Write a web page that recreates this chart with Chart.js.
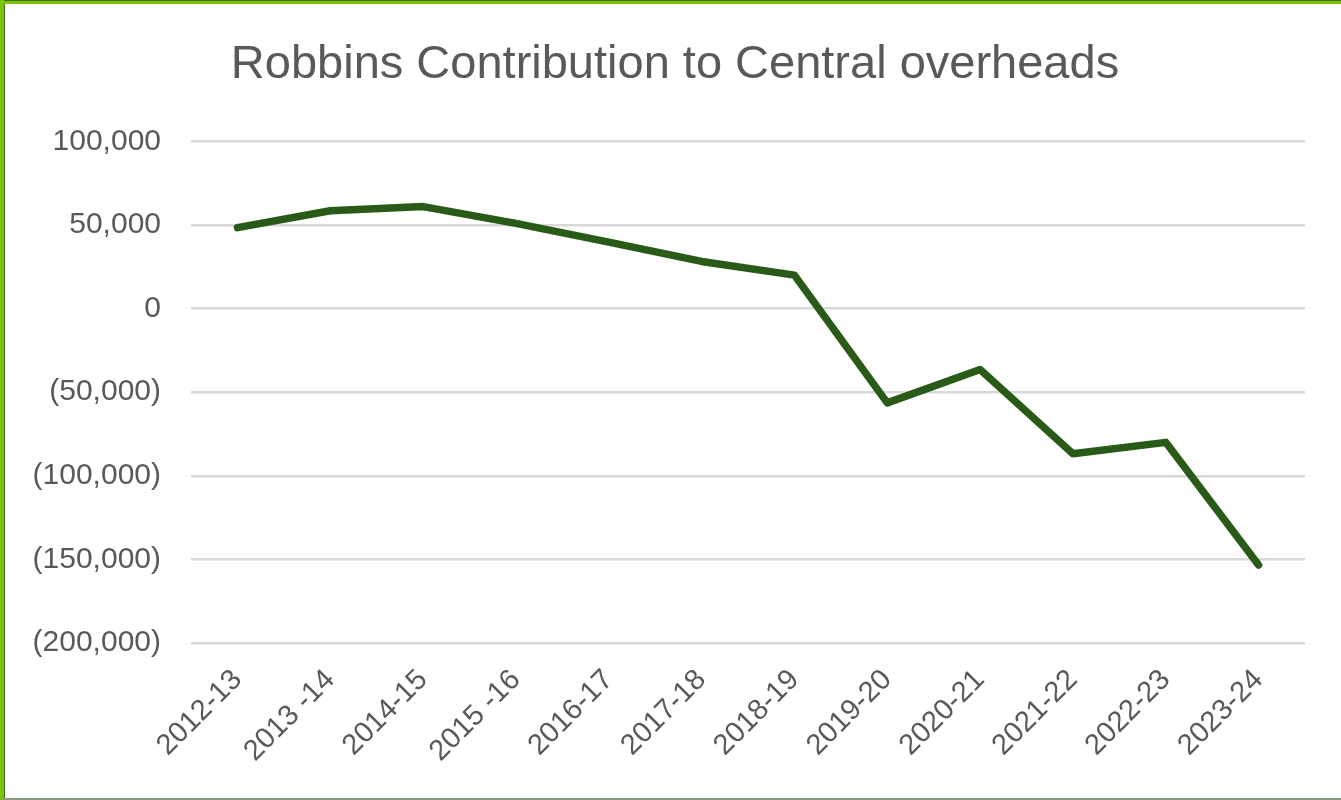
<!DOCTYPE html>
<html>
<head>
<meta charset="utf-8">
<script src="https://cdn.jsdelivr.net/npm/chart.js@4.4.1/dist/chart.umd.min.js"></script>
<style>
  html, body { margin: 0; padding: 0; background: #fff; }
  #wrap { position: relative; width: 1341px; height: 800px; }
  #frame {
    position: absolute; left: 0; top: 0; width: 1341px; height: 800px;
    box-sizing: border-box; pointer-events: none;
    border-left: 4px solid #7cc400; border-top: 4px solid #7cc400;
    border-bottom: 2px solid #8a9a7e;
  }
  #frame2 {
    position: absolute; left: 4px; top: 0; width: 1337px; height: 1px;
    background: #3f6a2a; pointer-events: none;
  }
  #frame3 {
    position: absolute; left: 4px; top: 4px; width: 1px; height: 794px;
    background: #3f6a2a; pointer-events: none;
  }
</style>
</head>
<body>
<div id="wrap">
  <canvas id="chart" width="1341" height="800"></canvas>
  <div id="frame"></div>
  <div id="frame2"></div>
  <div id="frame3"></div>
</div>
<script>
// Dados do grafico
const anos = ['2012-13', '2013 -14', '2014-15', '2015 -16', '2016-17', '2017-18',
              '2018-19', '2019-20', '2020-21', '2021-22', '2022-23', '2023-24']
const contribuicao = [48400, 58500, 61000, 51000, 39800, 28200,
                      20000, -56400, -36400, -86800, -80000, -153400]
const yTicks = [100000, 50000, 0, -50000, -100000, -150000, -200000]

const corTexto = '#595959'
const fonte = "'Liberation Sans', Arial, sans-serif"

// Formato contabil: negativos entre parenteses
const formatValor = (v) => {
    if (v === 0) return '0'
    const s = Math.abs(v).toLocaleString('en-US')
    return v < 0 ? `(${s})` : s
}

new Chart(document.getElementById('chart'), {
    type: 'line',
    data: {
        labels: anos,
        datasets: [{
            label: 'Robbins',
            data: contribuicao,
            borderColor: '#2a5a17',
            backgroundColor: '#2a5a17',
            borderWidth: 7.5,
            borderCapStyle: 'round',
            borderJoinStyle: 'round',
            pointRadius: 0,
            fill: false,
            tension: 0
        }]
    },
    options: {
        responsive: false,
        animation: false,
        layout: { padding: { left: 9, right: 0, top: 0, bottom: 0 } },
        plugins: {
            legend: { display: false },
            tooltip: { enabled: false },
            title: {
                display: true,
                text: 'Robbins Contribution to Central overheads',
                color: corTexto,
                font: { family: fonte, size: 47, weight: 'normal', lineHeight: 1.2 },
                padding: { top: 37, bottom: 48 }
            }
        },
        scales: {
            x: {
                offset: true,
                grid: { display: false, drawTicks: false },
                border: { display: false },
                ticks: {
                    color: corTexto,
                    font: { family: fonte, size: 29 },
                    minRotation: 45,
                    maxRotation: 45,
                    padding: 20,
                    autoSkip: false
                },
                afterFit: (scale) => { scale.height = 157 }
            },
            y: {
                min: -200000,
                max: 100000,
                afterBuildTicks: (scale) => {
                    scale.ticks = yTicks.map(v => ({ value: v }))
                },
                grid: { color: '#d9d9d9', lineWidth: 2.5, drawTicks: false },
                border: { display: false },
                ticks: {
                    color: corTexto,
                    font: { family: fonte, size: 30 },
                    padding: 30,
                    callback: (v) => formatValor(v)
                },
                afterFit: (scale) => { scale.width = 182 }
            },
            // eixo vazio so para a margem direita
            yDir: {
                position: 'right',
                min: -200000,
                max: 100000,
                grid: { display: false },
                border: { display: false },
                ticks: { display: false },
                afterFit: (scale) => { scale.width = 36 }
            }
        }
    }
})
</script>
</body>
</html>
